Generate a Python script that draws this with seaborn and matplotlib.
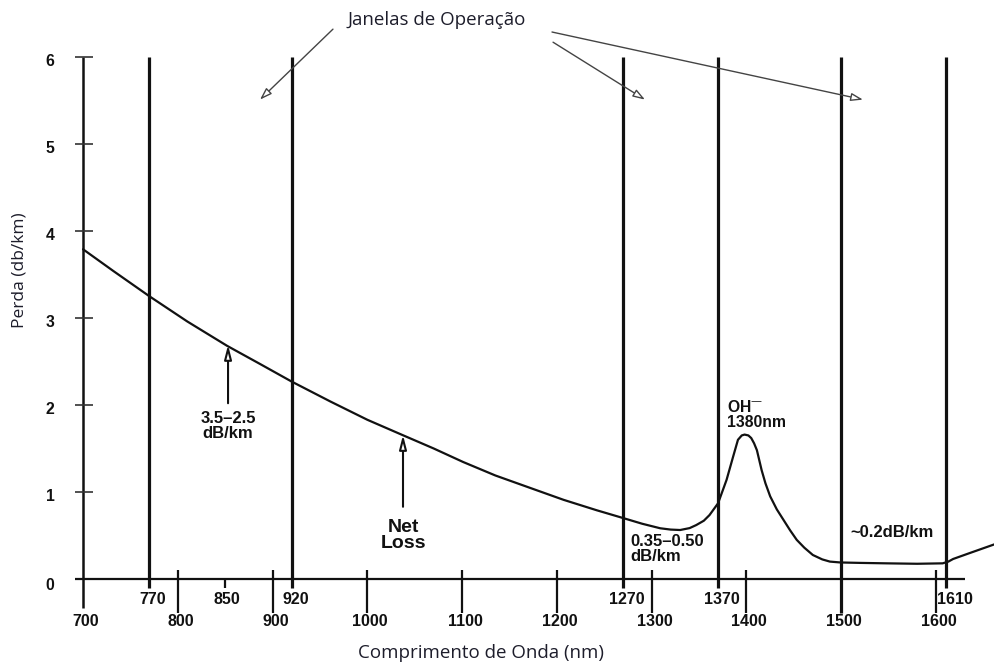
import matplotlib
matplotlib.use("Agg")
import matplotlib.pyplot as plt
import seaborn as sns
import pandas as pd

# ---- data ----
wavelength_nm = [700, 732, 770, 810, 852, 887, 920, 961, 1000, 1037, 1070, 1101, 1135, 1172,
                 1207, 1242, 1270, 1290, 1309, 1320, 1330, 1340, 1347, 1355, 1361, 1370,
                 1379, 1386, 1391, 1395, 1398, 1402, 1405, 1408, 1411, 1416, 1420, 1425,
                 1432, 1439, 1446, 1453, 1461, 1470, 1480, 1488, 1499, 1520, 1548, 1580,
                 1607, 1613, 1618, 1636, 1662]
loss_db_km = [3.79, 3.54, 3.25, 2.96, 2.68, 2.47, 2.27, 2.04, 1.83, 1.655, 1.50, 1.345, 1.19,
              1.046, 0.91, 0.79, 0.70, 0.635, 0.583, 0.568, 0.563, 0.585, 0.62, 0.67, 0.735,
              0.87, 1.14, 1.41, 1.60, 1.65, 1.66, 1.65, 1.62, 1.56, 1.48, 1.25, 1.10, 0.95,
              0.80, 0.68, 0.56, 0.45, 0.36, 0.276, 0.225, 0.20, 0.19, 0.185, 0.18, 0.175,
              0.18, 0.20, 0.23, 0.30, 0.40]

window_lines = [770, 920, 1270, 1370, 1500, 1610]
window_labels = ["770", "920", "1270", "1370", "1610"]
window_label_pos = [773.8, 924.7, 1274, 1374.2, 1620]
major_ticks = [700, 800, 900, 1000, 1100, 1200, 1300, 1400, 1500, 1600]
minor_tick = [850]
y_ticks = [0, 1, 2, 3, 4, 5, 6]

title_text = "Janelas de Operação"
xlabel_text = "Comprimento de Onda (nm)"
ylabel_text = "Perda (db/km)"

df = pd.DataFrame({"nm": wavelength_nm, "loss": loss_db_km})

sns.set_theme(style="white")
plt.rcParams["font.family"] = ["Liberation Sans", "DejaVu Sans"]

fig = plt.figure(figsize=(9.95, 6.68), dpi=100)
fig.patch.set_facecolor("white")
ax = fig.add_axes([0, 0, 1, 1])
ax.set_xlim(612.4, 1662.2)
ax.set_ylim(-1.023, 6.655)
ax.axis("off")

ink = "#111111"

# attenuation curve
sns.lineplot(data=df, x="nm", y="loss", ax=ax, color=ink, lw=1.6, sort=False,
             legend=False)

# axes lines
ax.hlines(0, 691.6, 1630.6, color=ink, lw=1.6)
ax.vlines(700, -0.33, 6.0, color=ink, lw=1.8)
for yv in y_ticks[1:]:
    ax.hlines(yv, 691.6, 710.6, color="#333333", lw=1.2)
    ax.text(665.2, yv - 0.05, str(yv), ha="center", va="center",
            fontsize=11.3, fontweight="bold", color=ink)
ax.text(665.2, -0.08, "0", ha="center", va="center",
        fontsize=11.3, fontweight="bold", color=ink)

# window lines
for w in window_lines:
    bottom = -0.39 if w == 1500 else -0.10
    ax.vlines(w, bottom, 6.0, color=ink, lw=2.3)

# major ticks and labels
for t in major_ticks:
    if t not in (700, 1500):
        ax.vlines(t, -0.39, 0.10, color=ink, lw=1.6)
    ax.text(t + 3, -0.494, str(t), ha="center", va="center",
            fontsize=11.5, fontweight="bold", color=ink)
for t in minor_tick:
    ax.vlines(t, -0.10, 0.0, color=ink, lw=1.6)
    ax.text(t + 2, -0.23, str(t), ha="center", va="center",
            fontsize=11.5, fontweight="bold", color=ink)
for lab, pos in zip(window_labels, window_label_pos):
    ax.text(pos, -0.23, lab, ha="center", va="center",
            fontsize=11.5, fontweight="bold", color=ink)

# annotations on the curve
hollow = dict(arrowstyle="-|>,head_length=0.7,head_width=0.18", fc="white",
              ec=ink, lw=1.5, shrinkA=0, shrinkB=0)
ax.annotate("", xy=(853, 2.69), xytext=(853, 2.02), arrowprops=hollow)
ax.text(853, 1.76, "3.5\u20132.5\ndB/km", ha="center", va="center",
        fontsize=12, fontweight="bold", color=ink, linespacing=1.0)
ax.annotate("", xy=(1037.6, 1.655), xytext=(1037.6, 0.83), arrowprops=hollow)
ax.text(1037.6, 0.50, "Net\nLoss", ha="center", va="center",
        fontsize=14, fontweight="bold", color=ink, linespacing=0.95)
ax.text(1379.4, 1.885, "OH$^{\u2014}$\n1380nm", ha="left", va="center",
        fontsize=11.3, fontweight="bold", color=ink, linespacing=1.0)
ax.text(1277.1, 0.345, "0.35\u20130.50\ndB/km", ha="left", va="center",
        fontsize=12, fontweight="bold", color=ink, linespacing=0.95)
ax.text(1509.2, 0.54, "~0.2dB/km", ha="left", va="center",
        fontsize=12, fontweight="bold", color=ink)

# window callout
label_font = ["Open Sans", "DejaVu Sans"]
txtc = "#1d1d2b"
ax.text(1073.5, 6.425, title_text, ha="center", va="center", fontsize=13.5,
        color=txtc, family=label_font)
thin = dict(arrowstyle="-|>,head_length=0.6,head_width=0.2", fc="white",
            ec="#444444", lw=1.0, shrinkA=0, shrinkB=0)
ax.annotate("", xy=(886.7, 5.51), xytext=(963.7, 6.32), arrowprops=thin)
ax.annotate("", xy=(1292.9, 5.51), xytext=(1195.9, 6.17), arrowprops=thin)
ax.annotate("", xy=(1522.9, 5.51), xytext=(1194.8, 6.287), arrowprops=thin)

# axis titles
ax.text(1119.9, -0.851, xlabel_text, ha="center", va="center", fontsize=13.5,
        color=txtc, family=label_font)
ax.text(633.5, 3.55, ylabel_text, ha="center", va="center", fontsize=12.5,
        color=txtc, family=label_font, rotation=90)

fig.savefig("out.png", dpi=100, facecolor="white")
